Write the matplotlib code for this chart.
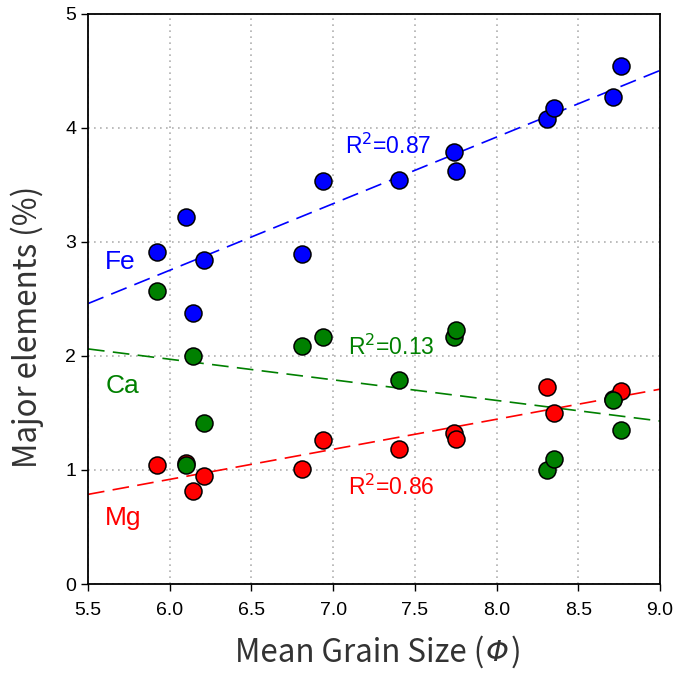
import numpy as np
import matplotlib
matplotlib.use("Agg")
import matplotlib.pyplot as plt
from matplotlib.offsetbox import TextArea, HPacker, AnnotationBbox

# mean grain size (phi) of each sample
grain = [5.92, 6.10, 6.14, 6.21, 6.81, 6.94, 7.40, 7.74, 7.75, 8.31, 8.35, 8.71, 8.76]
# major elements (%)
fe = [2.91, 3.22, 2.38, 2.84, 2.89, 3.53, 3.54, 3.79, 3.62, 4.08, 4.17, 4.27, 4.54]
mg = [1.04, 1.06, 0.82, 0.95, 1.01, 1.26, 1.18, 1.32, 1.27, 1.73, 1.50, 1.62, 1.69]
ca = [2.57, 1.04, 2.00, 1.41, 2.09, 2.17, 1.79, 2.17, 2.23, 1.00, 1.10, 1.61, 1.35]

r2_labels = {"Fe": "R$^2$=0.87", "Ca": "R$^2$=0.13", "Mg": "R$^2$=0.86"}

plt.rcParams["font.family"] = ["Liberation Sans", "DejaVu Sans"]

fig = plt.figure(figsize=(6.77, 6.78), dpi=100)
ax = fig.add_axes([0.130, 0.1386, 0.845, 0.841])

xx = np.array([5.5, 9.0])
series = [("Fe", fe, "#0000ff"), ("Mg", mg, "#ff0000"), ("Ca", ca, "#008000")]
for name, vals, col in series:
    k, b = np.polyfit(grain, vals, 1)
    ax.plot(xx, k * xx + b, color=col, lw=1.2, dashes=(10, 5), zorder=2)
for name, vals, col in series:
    ax.scatter(grain, vals, s=150, color=col, edgecolors="black",
               linewidths=1.1, zorder=3)

# element names
ax.text(5.605, 2.82, "Fe", color="#0000ff", fontsize=19, va="center")
ax.text(5.605, 1.74, "Ca", color="#008000", fontsize=19, va="center")
ax.text(5.605, 0.58, "Mg", color="#ff0000", fontsize=19, va="center")
# R2 values
ax.text(7.07, 3.84, r2_labels["Fe"], color="#0000ff", fontsize=16.5, va="center")
ax.text(7.09, 2.08, r2_labels["Ca"], color="#008000", fontsize=16.5, va="center")
ax.text(7.09, 0.85, r2_labels["Mg"], color="#ff0000", fontsize=16.5, va="center")

ax.set_xlim(5.5, 9.0)
ax.set_ylim(0, 5)
ax.set_xticks(np.arange(5.5, 9.01, 0.5))
ax.set_xticklabels(["%.1f" % t for t in np.arange(5.5, 9.01, 0.5)])
ax.set_yticks(range(0, 6))
ax.tick_params(labelsize=14, length=5, width=1, direction="out",
               top=False, right=False)
ax.tick_params(axis="x", pad=8)
ax.grid(True, color="#b0b0b0", lw=1.2, linestyle=(0, (1, 2.6)))
ax.set_axisbelow(True)
for sp in ax.spines.values():
    sp.set_linewidth(1.3)

lab_font = ["Noto Sans CJK KR", "DejaVu Sans"]
lab_col = "#333333"
ax.set_ylabel("Major elements (%)", fontsize=22.5, color=lab_col,
              family=lab_font, va="center")
ax.yaxis.set_label_coords(-0.107, 0.451)

# x label with an italic phi
parts = [TextArea("Mean Grain Size (", textprops=dict(fontsize=22.5, color=lab_col, family=lab_font)),
         TextArea("Φ", textprops=dict(fontsize=21, color=lab_col, family="DejaVu Sans", style="italic")),
         TextArea(")", textprops=dict(fontsize=22.5, color=lab_col, family=lab_font))]
xlab = HPacker(children=parts, align="baseline", pad=0, sep=1)
ab = AnnotationBbox(xlab, (0.507, -0.119), xycoords="axes fraction",
                    box_alignment=(0.5, 0.5), frameon=False, annotation_clip=False)
ax.add_artist(ab)

fig.savefig("out.png", dpi=100)
